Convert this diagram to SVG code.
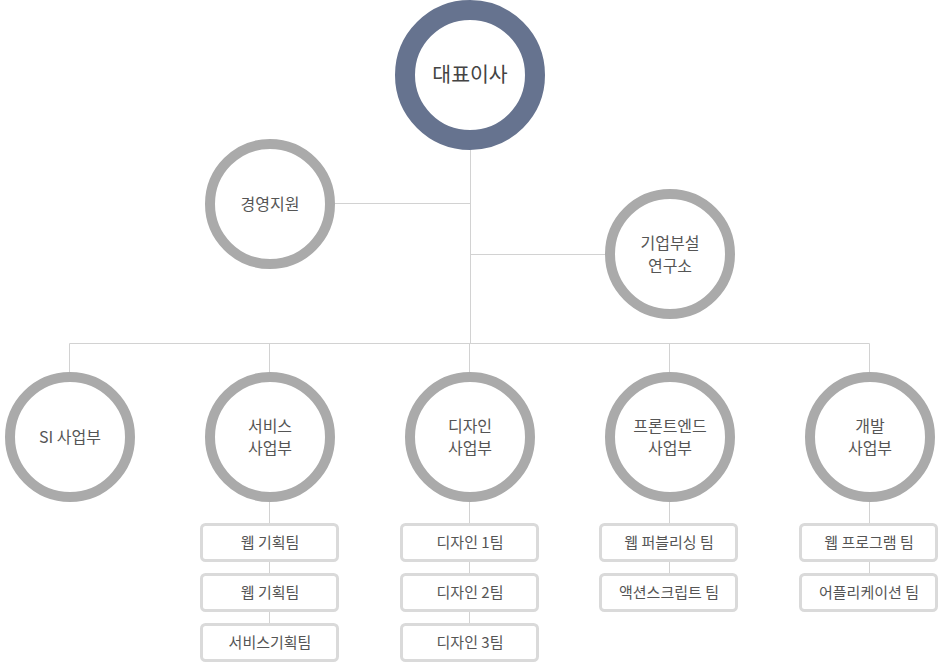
<svg xmlns="http://www.w3.org/2000/svg" width="940" height="663" viewBox="0 0 940 663">
<style>
.ln{stroke:#d2d2d2;stroke-width:1;fill:none}
.ring{fill:#fff;stroke:#aaaaaa;stroke-width:10}
.box{fill:#fff;stroke:#dadada;stroke-width:3}
text{font-family:"Noto Sans CJK KR","Noto Sans",sans-serif;fill:#555;text-anchor:middle}
.c{font-size:16px}
.b{font-size:15px}
</style>
<rect width="940" height="663" fill="#fff"/>
<g id="connectors">
<path class="ln" d="M470.5 150V343.5M335 203.5H470.5M470.5 254.5H605M69.5 343.5H869.5M69.5 343.5V372M269.5 343.5V372M469.5 343.5V372M669.5 343.5V372M869.5 343.5V372"/>
<path class="ln" d="M269.5 502V523M269.5 562V573M269.5 612V623M469.5 502V523M469.5 562V573M469.5 612V623M669.5 502V523M669.5 562V573M869.5 502V523M869.5 562V573"/>
</g>
<g id="ceo">
<circle cx="470" cy="75" r="65" fill="#fff" stroke="#66738f" stroke-width="20"/>
<text x="470" y="82" font-size="20.5" style="fill:#444">대표이사</text>
</g>
<g id="mgmt">
<circle class="ring" cx="270" cy="204" r="60"/>
<text class="c" x="270" y="209.5">경영지원</text>
</g>
<g id="lab">
<circle class="ring" cx="670" cy="254" r="60"/>
<text class="c" x="670" y="248.5">기업부설</text>
<text class="c" x="670" y="271.5">연구소</text>
</g>
<g id="si">
<circle class="ring" cx="70" cy="437" r="60"/>
<text class="c" x="70" y="442.5">SI 사업부</text>
</g>
<g id="service">
<circle class="ring" cx="270" cy="437" r="60"/>
<text class="c" x="270" y="431.5">서비스</text>
<text class="c" x="270" y="453.5">사업부</text>
</g>
<g id="design">
<circle class="ring" cx="470" cy="437" r="60"/>
<text class="c" x="470" y="431.5">디자인</text>
<text class="c" x="470" y="453.5">사업부</text>
</g>
<g id="front">
<circle class="ring" cx="670" cy="437" r="60"/>
<text class="c" x="670" y="431.5">프론트엔드</text>
<text class="c" x="670" y="453.5">사업부</text>
</g>
<g id="dev">
<circle class="ring" cx="870" cy="437" r="60"/>
<text class="c" x="870" y="431.5">개발</text>
<text class="c" x="870" y="453.5">사업부</text>
</g>
<g id="svc-team1"><rect class="box" x="201.5" y="524.5" width="136" height="36" rx="4"/><text class="b" x="270" y="548">웹 기획팀</text></g>
<g id="svc-team2"><rect class="box" x="201.5" y="574.5" width="136" height="36" rx="4"/><text class="b" x="270" y="598">웹 기획팀</text></g>
<g id="svc-team3"><rect class="box" x="201.5" y="624.5" width="136" height="36" rx="4"/><text class="b" x="270" y="648">서비스기획팀</text></g>
<g id="des-team1"><rect class="box" x="401.5" y="524.5" width="136" height="36" rx="4"/><text class="b" x="470" y="548">디자인 1팀</text></g>
<g id="des-team2"><rect class="box" x="401.5" y="574.5" width="136" height="36" rx="4"/><text class="b" x="470" y="598">디자인 2팀</text></g>
<g id="des-team3"><rect class="box" x="401.5" y="624.5" width="136" height="36" rx="4"/><text class="b" x="470" y="648">디자인 3팀</text></g>
<g id="fe-team1"><rect class="box" x="600.5" y="524.5" width="136" height="36" rx="4"/><text class="b" x="669" y="548">웹 퍼블리싱 팀</text></g>
<g id="fe-team2"><rect class="box" x="600.5" y="574.5" width="136" height="36" rx="4"/><text class="b" x="669" y="598">액션스크립트 팀</text></g>
<g id="dev-team1"><rect class="box" x="800.5" y="524.5" width="136" height="36" rx="4"/><text class="b" x="869" y="548">웹 프로그램 팀</text></g>
<g id="dev-team2"><rect class="box" x="800.5" y="574.5" width="136" height="36" rx="4"/><text class="b" x="869" y="598">어플리케이션 팀</text></g>
</svg>
